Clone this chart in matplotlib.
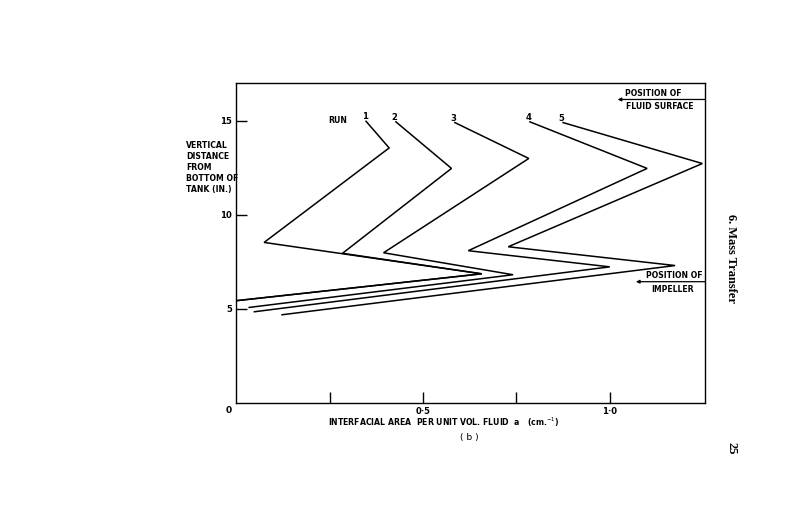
import matplotlib
matplotlib.use('Agg')
import matplotlib.pyplot as plt

# interfacial area a (cm^-1) and height above tank bottom (in.) for each run
run_labels = ['1', '2', '3', '4', '5']
run_a = [
    [0.347, 0.409, 0.074, 0.657, 0.0],
    [0.427, 0.576, 0.284, 0.657, 0.0],
    [0.585, 0.783, 0.394, 0.741, 0.034],
    [0.786, 1.100, 0.621, 1.000, 0.048],
    [0.875, 1.248, 0.728, 1.175, 0.122],
]
run_h = [
    [14.98, 13.56, 8.53, 6.86, 5.43],
    [14.95, 12.47, 7.95, 6.86, 5.43],
    [14.91, 13.00, 7.98, 6.81, 5.07],
    [14.95, 12.47, 8.09, 7.23, 4.84],
    [14.91, 12.73, 8.30, 7.30, 4.68],
]
surface_h = 16.14
impeller_h = 6.44

xticks = [0.25, 0.5, 0.75, 1.0]
xticklabels = ['', '0·5', '', '1·0']
yticks = [5, 10, 15]

fs = 5.6
fig = plt.figure(figsize=(8, 5.29), dpi=100)
ax = fig.add_axes([0.2956, 0.2388, 0.5856, 0.6037])
ax.set_xlim(0, 1.255)
ax.set_ylim(0, 17)

for lab, xs, ys in zip(run_labels, run_a, run_h):
    ax.plot(xs, ys, color='black', lw=1.1, solid_joinstyle='miter')
    ax.annotate(lab, (xs[0], ys[0]), xytext=(-1, 0), textcoords='offset points',
                ha='center', va='bottom', fontsize=fs + 0.5, fontweight='bold')

ax.text(0.246, 15.0, 'RUN', fontsize=fs, fontweight='bold', va='center')

# fluid surface and impeller markers
ax.annotate('', xy=(1.021, surface_h), xytext=(1.255, surface_h),
            arrowprops=dict(arrowstyle='-|>', color='black', lw=0.9,
                            mutation_scale=5, shrinkA=0, shrinkB=0))
ax.text(1.042, surface_h + 0.08, 'POSITION OF', fontsize=fs, fontweight='bold', va='bottom')
ax.text(1.043, surface_h - 0.15, 'FLUID SURFACE', fontsize=fs, fontweight='bold', va='top')
ax.annotate('', xy=(1.07, impeller_h), xytext=(1.255, impeller_h),
            arrowprops=dict(arrowstyle='-|>', color='black', lw=0.9,
                            mutation_scale=5, shrinkA=0, shrinkB=0))
ax.text(1.096, impeller_h + 0.08, 'POSITION OF', fontsize=fs, fontweight='bold', va='bottom')
ax.text(1.112, impeller_h - 0.15, 'IMPELLER', fontsize=fs, fontweight='bold', va='top')

ax.set_xticks(xticks)
ax.set_xticklabels(xticklabels)
ax.set_yticks(yticks)
ax.tick_params(direction='in', length=8, width=1.0, labelsize=fs + 0.5, pad=3)
for t in ax.get_xticklabels() + ax.get_yticklabels():
    t.set_fontweight('bold')
for s in ax.spines.values():
    s.set_linewidth(1.0)

ax.text(-0.012, -0.2, '0', fontsize=fs + 1, fontweight='bold', ha='right', va='top')

ax.text(-0.135, 13.95, 'VERTICAL\nDISTANCE\nFROM\nBOTTOM OF\nTANK (IN.)',
        fontsize=fs, fontweight='bold', ha='left', va='top', linespacing=1.3)
ax.text(0.245, -1.06, 'INTERFACIAL AREA  PER UNIT VOL. FLUID  a   (cm.$^{-1}$)',
        fontsize=fs, fontweight='bold', ha='left', va='center')
ax.text(0.625, -1.88, '( b )', fontsize=fs + 1, ha='center', va='center')

fig.text(731.5 / 800, 1 - 259 / 529, '6. Mass Transfer', rotation=-90, ha='center', va='center',
         family='Liberation Serif', fontweight='bold', fontsize=9)
fig.text(731.5 / 800, 1 - 448 / 529, '25', rotation=-90, ha='center', va='center',
         family='Liberation Serif', fontweight='bold', fontsize=9)

fig.savefig('out.png', dpi=100)
